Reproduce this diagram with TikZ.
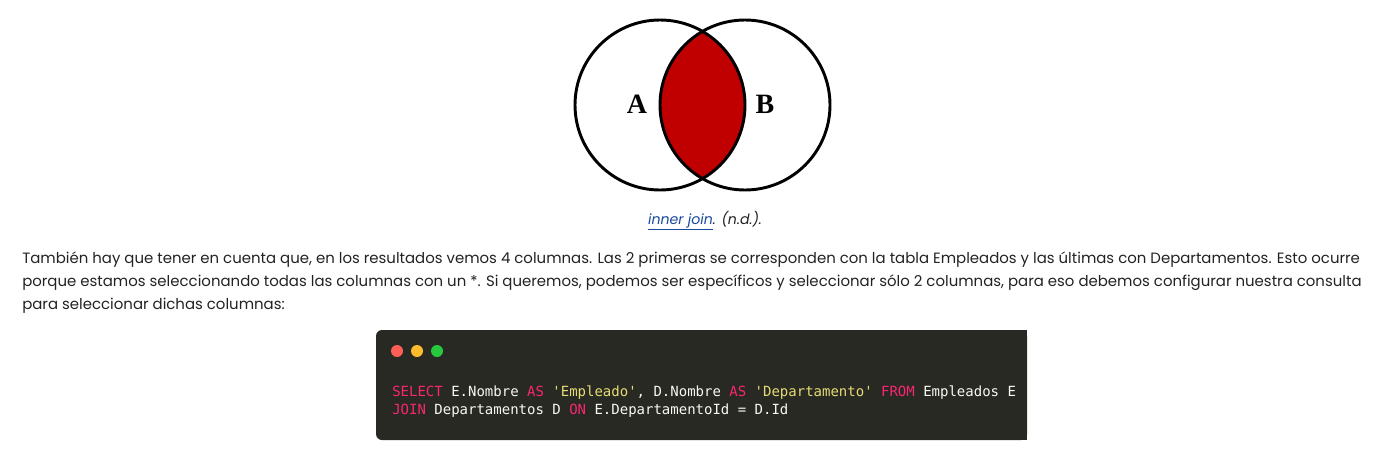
\documentclass[tikz,border=0pt]{standalone}
\usepackage{fontspec}
\setmainfont{Poppins}
\newfontfamily\timesf{Liberation Serif}
\newfontfamily\monof{DejaVu Sans Mono}
\definecolor{vennred}{HTML}{C00000}
\definecolor{bodytxt}{HTML}{222222}
\definecolor{linkblue}{HTML}{1A4A9C}
\definecolor{codebg}{HTML}{282923}
\definecolor{kw}{HTML}{F92672}
\definecolor{strc}{HTML}{E6DB74}
\definecolor{plain}{HTML}{F8F8F2}
\definecolor{dotr}{HTML}{FF5F56}
\definecolor{doty}{HTML}{FFBD2E}
\definecolor{dotg}{HTML}{27C93F}
\tikzset{
  setlabel/.style={font=\timesf\bfseries\fontsize{21}{21}\selectfont, inner sep=0pt},
  bodyline/.style={anchor=base west, inner sep=0pt, text=bodytxt, font=\fontsize{11.2}{13}\selectfont},
  codeline/.style={anchor=base west, inner sep=0pt, text=plain, font=\monof\fontsize{10.5}{13}\selectfont},
  winbtn/.style={circle, minimum size=9pt, inner sep=0pt},
}
\begin{document}
\begin{tikzpicture}[x=0.75pt,y=-0.75pt]
\useasboundingbox (0,0) rectangle (1394,450);
% Venn
\begin{scope}
  \clip (660,105) circle (85);
  \fill[vennred] (745,105) circle (85);
\end{scope}
\draw[line width=2.2pt] (660,105) circle (85);
\draw[line width=2.2pt] (745,105) circle (85);
\node[setlabel] (A) at (637,104) {A};
\node[setlabel] (B) at (765,104) {B};
% caption
\node[anchor=base, inner sep=0pt, font=\itshape\fontsize{10.6}{13}\selectfont, text=bodytxt] (cap) at (705,224)
  {\textcolor{linkblue}{\underline{inner join}}. (n.d.).};
% paragraph
\node[bodyline] (l1) at (22,263) {También hay que tener en cuenta que, en los resultados vemos 4 columnas. Las 2 primeras se corresponden con la tabla Empleados y las últimas con Departamentos. Esto ocurre};
\node[bodyline] (l2) at (22,286) {porque estamos seleccionando todas las columnas con un *. Si queremos, podemos ser específicos y seleccionar sólo 2 columnas, para eso debemos configurar nuestra consulta};
\node[bodyline] (l3) at (22,309) {para seleccionar dichas columnas:};
% code box
\fill[codebg, rounded corners=4.5pt] (376,330) rectangle (1027,440);
\fill[codebg] (700,330) rectangle (1027,440);
\node[winbtn, fill=dotr] (d1) at (397,351) {};
\node[winbtn, fill=doty] (d2) at (417,351) {};
\node[winbtn, fill=dotg] (d3) at (437,351) {};
\node[codeline] (c1) at (392,396) {\textcolor{kw}{SELECT} E.Nombre \textcolor{kw}{AS} \textcolor{strc}{'Empleado'}, D.Nombre \textcolor{kw}{AS} \textcolor{strc}{'Departamento'} \textcolor{kw}{FROM} Empleados E};
\node[codeline] (c2) at (392,414) {\textcolor{kw}{JOIN} Departamentos D \textcolor{kw}{ON} E.DepartamentoId = D.Id};
\end{tikzpicture}
\end{document}
